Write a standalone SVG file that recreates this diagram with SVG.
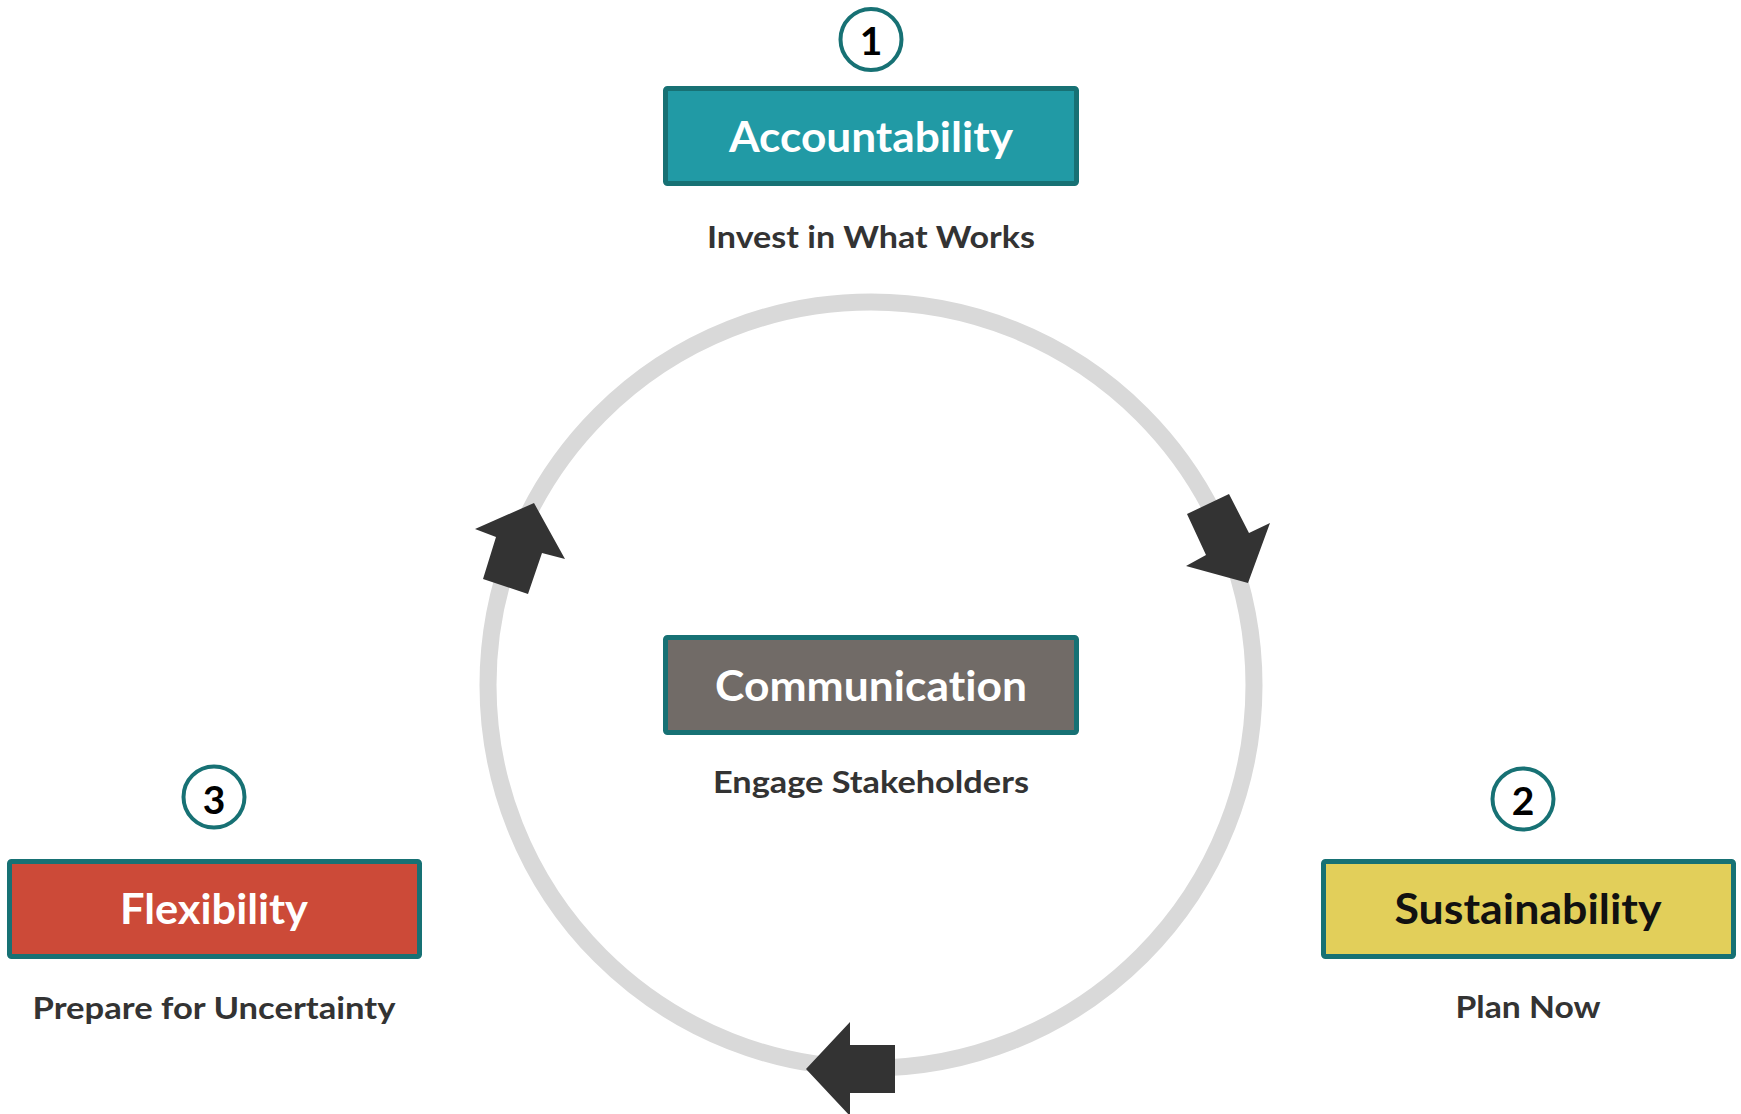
<svg xmlns="http://www.w3.org/2000/svg" width="1741" height="1114" viewBox="0 0 1741 1114">
  <style>
    text { font-variant-ligatures: none; font-feature-settings: "liga" 0, "clig" 0; }
    .box { stroke: #177174; stroke-width: 5; }
    .num { fill: #ffffff; stroke: #177174; stroke-width: 4; }
    .numtxt { font-family: Lato, "Open Sans", sans-serif; font-weight: 700; font-size: 39px; fill: #000000; text-anchor: middle; }
    .title { font-family: Lato, "Open Sans", sans-serif; font-weight: 700; font-size: 42px; text-anchor: middle; }
    .sub { font-family: Lato, "Open Sans", sans-serif; font-weight: 700; font-size: 30px; fill: #333333; text-anchor: middle; }
    .ring { fill: none; stroke: #d9d9d9; stroke-width: 17; }
    .arrow { fill: #333333; }
  </style>

  <!-- cycle ring with direction arrows -->
  <g id="connectors">
    <circle class="ring" cx="871" cy="685" r="383"/>
    <polygon class="arrow" points="534,503 565,559 542,553 528,594 483,579 496,537 475,529"/>
    <polygon class="arrow" points="1187,514 1229,494 1249,533 1270,523 1248,583 1186,566 1206,555"/>
    <polygon class="arrow" points="806,1069 850,1022 850,1045 895,1045 895,1093 850,1093 850,1116"/>
  </g>

  <!-- 1: Accountability -->
  <g id="accountability">
    <circle class="num" cx="871" cy="39.5" r="30.5"/>
    <text class="numtxt" x="871" y="55">1</text>
    <rect class="box" x="665.5" y="88.5" width="411" height="95" rx="2" fill="#219aa5"/>
    <text class="title" x="871" y="152" fill="#ffffff" textLength="284" lengthAdjust="spacingAndGlyphs">Accountability</text>
    <text class="sub" x="871" y="248" textLength="328" lengthAdjust="spacingAndGlyphs">Invest in What Works</text>
  </g>

  <!-- 2: Sustainability -->
  <g id="sustainability">
    <circle class="num" cx="1523" cy="799" r="30.5"/>
    <text class="numtxt" x="1523" y="815">2</text>
    <rect class="box" x="1323.5" y="861.5" width="410" height="95" rx="2" fill="#e2cf5a"/>
    <text class="title" x="1528" y="924" fill="#111111" textLength="267" lengthAdjust="spacingAndGlyphs">Sustainability</text>
    <text class="sub" x="1528" y="1018" textLength="145" lengthAdjust="spacingAndGlyphs">Plan Now</text>
  </g>

  <!-- 3: Flexibility -->
  <g id="flexibility">
    <circle class="num" cx="214" cy="797" r="30.5"/>
    <text class="numtxt" x="214" y="814">3</text>
    <rect class="box" x="9.5" y="861.5" width="410" height="95" rx="2" fill="#cc4a38"/>
    <text class="title" x="214" y="924" fill="#ffffff" textLength="188" lengthAdjust="spacingAndGlyphs">Flexibility</text>
    <text class="sub" x="214" y="1019" textLength="363" lengthAdjust="spacingAndGlyphs">Prepare for Uncertainty</text>
  </g>

  <!-- centre: Communication -->
  <g id="communication">
    <rect class="box" x="665.5" y="637.5" width="411" height="95" rx="2" fill="#716b67"/>
    <text class="title" x="871" y="701" fill="#ffffff" textLength="312" lengthAdjust="spacingAndGlyphs">Communication</text>
    <text class="sub" x="871" y="793" textLength="316" lengthAdjust="spacingAndGlyphs">Engage Stakeholders</text>
  </g>
</svg>
